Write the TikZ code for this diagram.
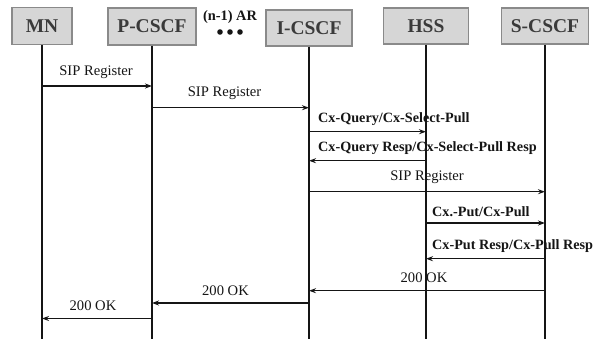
\documentclass[tikz,border=0pt]{standalone}
\usepackage{fontspec}
\setmainfont{Liberation Serif}
\usetikzlibrary{arrows.meta}
\definecolor{boxfill}{HTML}{D6D6D6}
\definecolor{boxline}{HTML}{8A8A8A}
\definecolor{boxtext}{HTML}{3A3A3A}
\definecolor{ink}{HTML}{151515}
\begin{document}
\begin{tikzpicture}[x=1pt,y=-1pt,
  entity/.style={draw=boxline, fill=boxfill, line width=1.2pt, minimum height=37pt,
    inner sep=0pt, font=\fontsize{19.5}{21}\selectfont\bfseries, text=boxtext},
  lifeline/.style={line width=1.2pt, draw=ink},
  msg/.style={line width=1.2pt, draw=ink, -{Stealth[length=7pt,width=5pt]}},
  lbl/.style={inner sep=0pt, text=ink, font=\fontsize{14.6}{16}\selectfont},
  blbl/.style={inner sep=0pt, anchor=south west, text=ink,
    font=\fontsize{14.2}{16}\selectfont\bfseries}]
\useasboundingbox (0,0) rectangle (606,339);

% participants
\node[entity, minimum width=60pt] (mn)  at (42,26)    {MN};
\node[entity, minimum width=88pt] (pc)  at (152,26.5) {P-CSCF};
\node[entity, minimum width=86pt, minimum height=36pt] (ic)  at (309,28) {I-CSCF};
\node[entity, minimum width=85pt, minimum height=36pt] (hss) at (426,26) {HSS};
\node[entity, minimum width=87pt, minimum height=36pt] (sc)  at (545,26) {S-CSCF};

% intermediate access routers
\node[inner sep=0pt, text=ink, font=\fontsize{14.4}{16}\selectfont\bfseries] (ar) at (230,17) {(n-1) AR};
\foreach \dx in {-10,0,10}
  \fill[ink] ([xshift=\dx pt, yshift=-15pt]ar.center) circle (2.8pt);

% lifelines
\coordinate (bot) at (0,339);
\foreach \p in {mn,pc,ic,hss,sc}
  \draw[lifeline] (\p) -- (\p |- bot);

% message rows
\coordinate (m1) at (0,86);
\coordinate (m2) at (0,107.7);
\coordinate (m3) at (0,131.7);
\coordinate (m4) at (0,160.7);
\coordinate (m5) at (0,191.7);
\coordinate (m6) at (0,223);
\coordinate (m7) at (0,258.7);
\coordinate (m8) at (0,290.7);
\coordinate (m9) at (0,303);
\coordinate (m10) at (0,318.5);

\draw[msg] (mn |- m1) -- (pc |- m1) node[lbl, midway, above=7pt, xshift=-1pt] {SIP Register};
\draw[msg] (pc |- m2) -- (ic |- m2) node[lbl, midway, above=7pt, xshift=-6pt] {SIP Register};
\draw[msg] (ic |- m3) -- (hss |- m3);
\node[blbl] at ([xshift=9pt, yshift=6pt]ic |- m3) {Cx-Query/Cx-Select-Pull};
\draw[msg] (hss |- m4) -- (ic |- m4);
\node[blbl] at ([xshift=9pt, yshift=6pt]ic |- m4) {Cx-Query Resp/Cx-Select-Pull Resp};
\draw[msg] (ic |- m5) -- (sc |- m5) node[lbl, midway, above=7pt] {SIP Register};
\draw[msg] (hss |- m6) -- (sc |- m6);
\node[blbl] at ([xshift=6pt, yshift=6pt]hss |- m6) {Cx.-Put/Cx-Pull};
\draw[msg] (sc |- m7) -- (hss |- m7);
\node[blbl] at ([xshift=6pt, yshift=6pt]hss |- m7) {Cx-Put Resp/Cx-Pull Resp};
\draw[msg] (sc |- m8) -- (ic |- m8) node[lbl, midway, above=7pt, xshift=-3pt] {200 OK};
\draw[msg] (ic |- m9) -- (pc |- m9) node[lbl, midway, above=7pt, xshift=-5pt] {200 OK};
\draw[msg] (pc |- m10) -- (mn |- m10) node[lbl, midway, above=7pt, xshift=-4pt] {200 OK};
\end{tikzpicture}
\end{document}
